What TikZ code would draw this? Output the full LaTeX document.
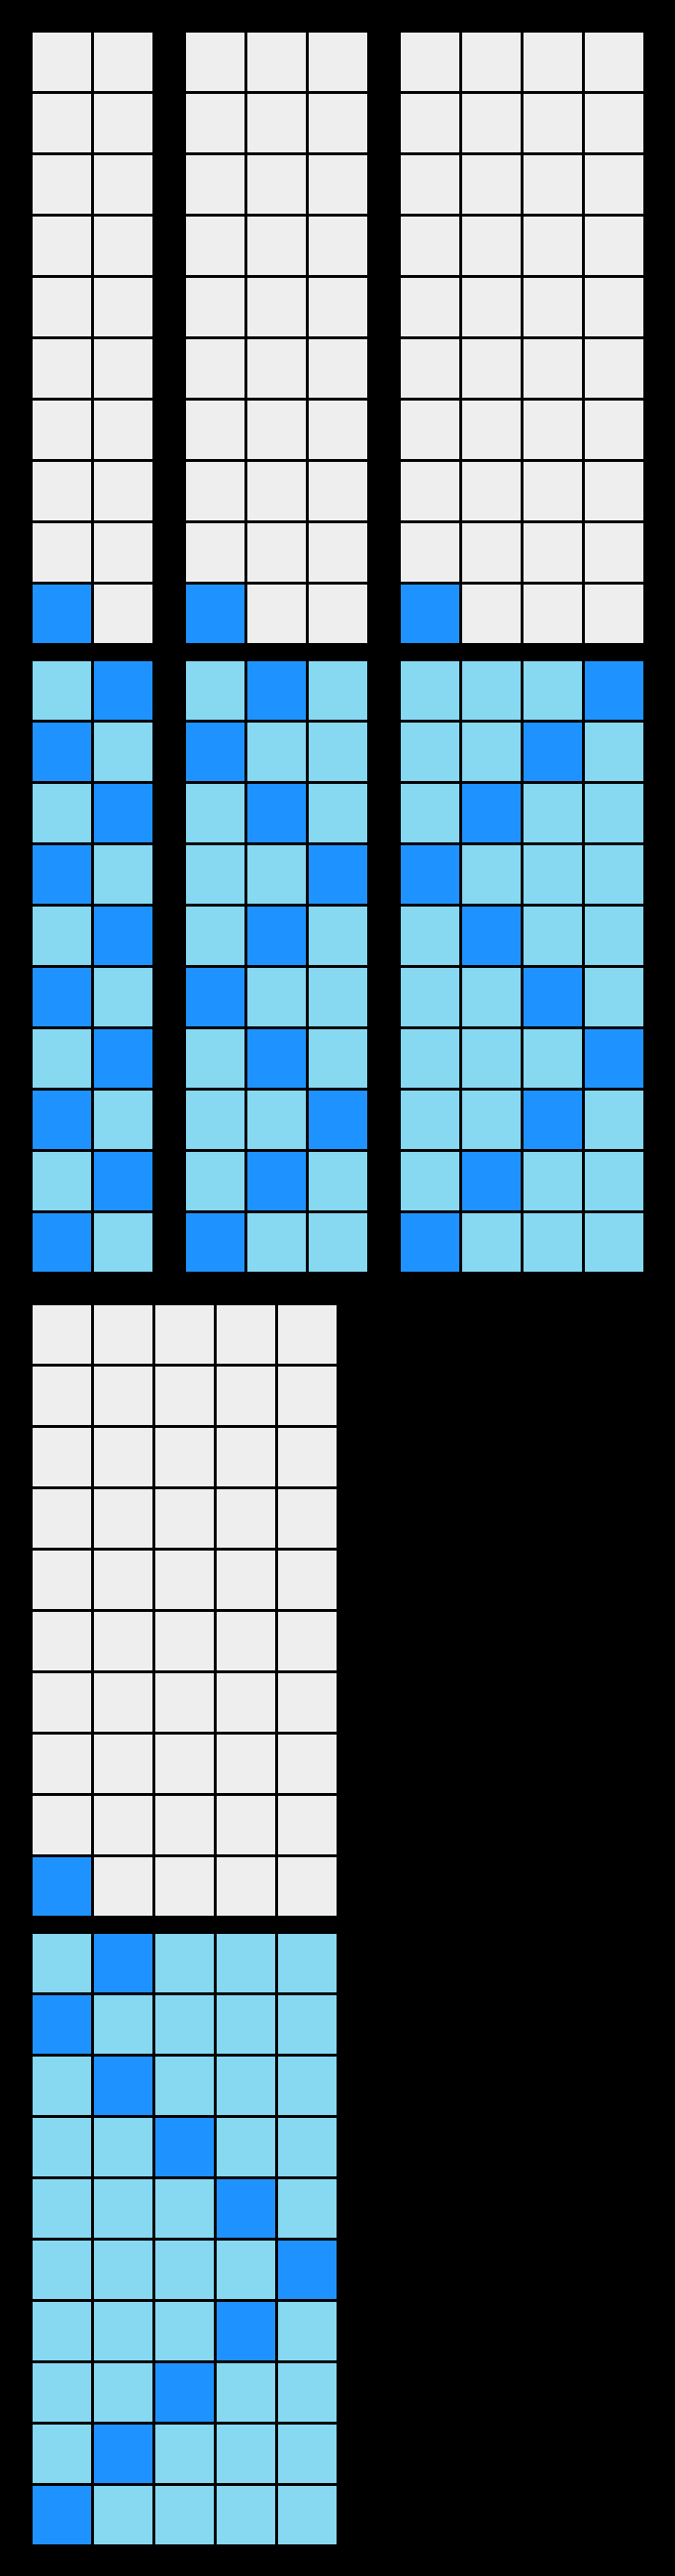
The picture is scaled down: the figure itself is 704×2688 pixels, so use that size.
\documentclass[tikz,border=0pt]{standalone}
\definecolor{cellgray}{HTML}{EEEEEE}
\definecolor{cellblue}{HTML}{1E93FF}
\definecolor{cellazure}{HTML}{87D8F1}
\newcommand\mydrawpair[3]{%
  % input grid
  \pgfmathtruncatemacro\Wm{#3-1}
  \foreach \r in {0,...,9}{
    \foreach \cl in {0,...,\Wm}{
      \ifnum\r=9 \ifnum\cl=0 \def\cc{cellblue}\else\def\cc{cellgray}\fi\else\def\cc{cellgray}\fi
      \filldraw[cellbox,fill=\cc] ({#1+64*\cl},{#2+64*\r}) rectangle ++(64,64);
    }
  }
  % output grid
  \foreach \r in {0,...,9}{
    \pgfmathtruncatemacro\mm{mod(9-\r,2*(#3-1))}
    \pgfmathtruncatemacro\bc{\mm<#3 ? \mm : 2*(#3-1)-\mm}
    \foreach \cl in {0,...,\Wm}{
      \ifnum\cl=\bc\relax \def\cc{cellblue}\else\def\cc{cellazure}\fi
      \filldraw[cellbox,fill=\cc] ({#1+64*\cl},{#2+656+64*\r}) rectangle ++(64,64);
    }
  }
}
\begin{document}
\begin{tikzpicture}[x=1pt,y=-1pt,cellbox/.style={draw=black,line width=3pt}]
\fill[black] (0,0) rectangle (704,2688);
\useasboundingbox (0,0) rectangle (704,2688);
\mydrawpair{32}{32}{2}
\mydrawpair{192}{32}{3}
\mydrawpair{416}{32}{4}
\mydrawpair{32}{1360}{5}
\end{tikzpicture}
\end{document}
